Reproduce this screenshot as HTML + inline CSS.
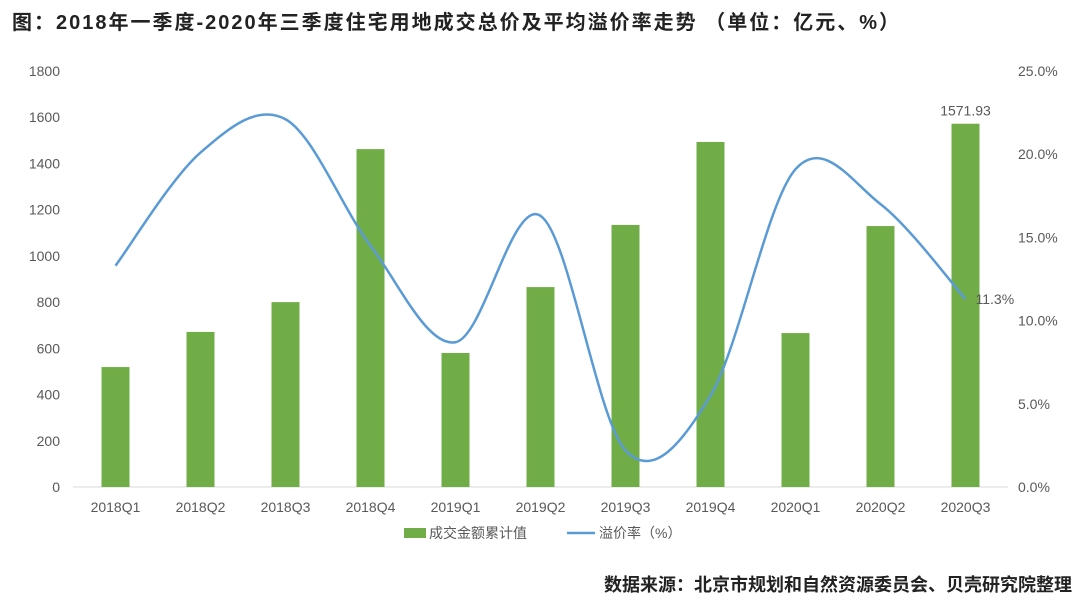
<!DOCTYPE html>
<html><head><meta charset="utf-8"><style>
body{margin:0;background:#fff;width:1080px;height:608px;overflow:hidden;font-family:"Liberation Sans","Noto Sans CJK SC",sans-serif}
</style></head><body>
<svg width="1080" height="608" xmlns="http://www.w3.org/2000/svg" font-family="Liberation Sans, Noto Sans CJK SC, sans-serif">
<text x="12" y="29" font-size="20" font-weight="bold" fill="#222" letter-spacing="2">图：2018年一季度-2020年三季度住宅用地成交总价及平均溢价率走势 （单位：亿元、%）</text>
<g id="axes"></g>
<g id="bars"></g>
<path id="line" fill="none" stroke="#5B9BD5" stroke-width="2.5"/>
<g id="labels"></g>
<g>
<rect x="404" y="528" width="22" height="10" fill="#70AD47"/>
<text x="429" y="538" font-size="14" fill="#595959">成交金额累计值</text>
<line x1="567" y1="533" x2="595" y2="533" stroke="#5B9BD5" stroke-width="2.5"/>
<text x="599" y="538" font-size="14" fill="#595959">溢价率（%）</text>
</g>
<text x="1072" y="591" font-size="18" font-weight="bold" fill="#222" text-anchor="end">数据来源：北京市规划和自然资源委员会、贝壳研究院整理</text>
</svg>
<script>
const categories=["2018Q1","2018Q2","2018Q3","2018Q4","2019Q1","2019Q2","2019Q3","2019Q4","2020Q1","2020Q2","2020Q3"];
const amounts=[519,671,800,1462,580,865,1134,1493,666,1129,1571.93];
const rates=[13.3,20.1,22.1,14.5,8.7,16.3,2.2,5.5,19.1,17.0,11.3];
const leftTicks=[0,200,400,600,800,1000,1200,1400,1600,1800];
const rightTicks=["0.0%","5.0%","10.0%","15.0%","20.0%","25.0%"];
const NS="http://www.w3.org/2000/svg";
const y0=487,y1=71,x0=73,x1=1008;
const step=(x1-x0)/categories.length;
const xs=i=>x0+step*(i+0.5);
const yL=v=>y0-(v/1800)*(y0-y1);
const yR=v=>y0-(v/25)*(y0-y1);
function mk(tag,attrs,parent,text){const e=document.createElementNS(NS,tag);for(const k in attrs)e.setAttribute(k,attrs[k]);if(text!==undefined)e.textContent=text;parent.appendChild(e);return e;}
const axes=document.getElementById('axes');
const ax=mk('line',{x1:x0,x2:x1,y1:y0,y2:y0,stroke:'#D9D9D9'},axes);


leftTicks.forEach(v=>{const t=mk('text',{x:60,y:yL(v)+5,'font-size':14,fill:'#595959','text-anchor':'end'},axes,v);

});
rightTicks.forEach((s,i)=>{const t=mk('text',{x:1018,y:yR(i*5)+5,'font-size':14,fill:'#595959'},axes,s);

});
categories.forEach((c,i)=>{const t=mk('text',{x:xs(i),y:y0+25,'font-size':14,fill:'#595959','text-anchor':'middle'},axes,c);

});
const bars=document.getElementById('bars');
amounts.forEach((v,i)=>{const r=mk('rect',{x:xs(i)-14,y:yL(v),width:28,height:y0-yL(v),fill:'#70AD47'},bars);

});
const pts=rates.map((v,i)=>[xs(i),yR(v)]);
let d='M'+pts[0][0]+','+pts[0][1];
for(let i=0;i<pts.length-1;i++){const p0=pts[i-1]||pts[i],p1=pts[i],p2=pts[i+1],p3=pts[i+2]||p2;const k=1/6;
d+=` C${p1[0]+(p2[0]-p0[0])*k},${p1[1]+(p2[1]-p0[1])*k} ${p2[0]-(p3[0]-p1[0])*k},${p2[1]-(p3[1]-p1[1])*k} ${p2[0]},${p2[1]}`;}
document.getElementById('line').setAttribute('d',d);
const labels=document.getElementById('labels');
const n=amounts.length-1;
const bl=mk('text',{x:xs(n),y:yL(amounts[n])-8,'font-size':14,fill:'#595959','text-anchor':'middle'},labels,amounts[n].toFixed(2));


const ll=mk('text',{x:xs(n)+10,y:yR(rates[n])+5,'font-size':14,fill:'#595959'},labels,rates[n].toFixed(1)+'%');


</script>
</body></html>
